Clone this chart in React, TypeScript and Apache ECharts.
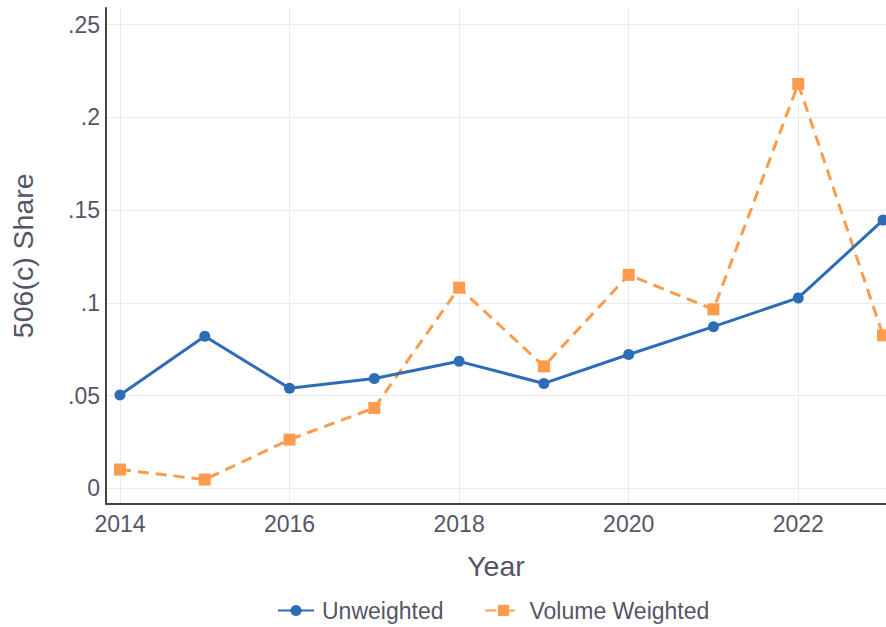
import React, { useEffect, useRef } from "react";
import * as echarts from "echarts";

const years = [2014, 2015, 2016, 2017, 2018, 2019, 2020, 2021, 2022, 2023];
const unweighted = [0.0504, 0.082, 0.054, 0.0593, 0.0685, 0.0566, 0.0722, 0.0872, 0.1027, 0.1446];
const volumeWeighted = [0.0102, 0.0048, 0.0263, 0.0434, 0.1082, 0.0658, 0.1151, 0.0965, 0.218, 0.0825];
const xTicks = [2014, 2016, 2018, 2020, 2022];
const yTicks = [0, 0.05, 0.1, 0.15, 0.2, 0.25];

const FONT = "Liberation Sans, Arial, sans-serif";
const TXT = "#555566";

export default function App() {
  const ref = useRef<HTMLDivElement>(null);
  useEffect(() => {
    if (!ref.current) return;
    const chart = echarts.init(ref.current, null, { renderer: "svg" });
    chart.setOption({
      animation: false,
      textStyle: { fontFamily: FONT },
      grid: { left: 104, right: 0, top: 8, bottom: 123.5, containLabel: false },
      legend: {
        left: 272,
        top: 594,
        itemWidth: 36,
        itemHeight: 14,
        itemGap: 41,
        textStyle: { fontFamily: FONT, fontSize: 23, color: TXT, padding: [0, 0, 0, 3] },
        data: ["Unweighted", "Volume Weighted"],
      },
      xAxis: {
        type: "value",
        min: 2013.835,
        max: 2023.035,
        name: "Year",
        nameLocation: "middle",
        nameGap: 48,
        nameTextStyle: { fontFamily: FONT, fontSize: 28.5, color: TXT },
        axisLine: { show: true, onZero: false, lineStyle: { color: "#444", width: 2 } },
        axisTick: { show: false, customValues: xTicks },
        axisLabel: {
          customValues: xTicks,
          fontSize: 23,
          color: TXT,
          margin: 9,
          formatter: (v: number) => String(v),
        },
        splitLine: { show: true, lineStyle: { color: "#ebebeb", width: 1 } },
      },
      yAxis: {
        type: "value",
        min: -0.0081,
        max: 0.2589,
        name: "506(c) Share",
        nameLocation: "middle",
        nameGap: 69,
        nameTextStyle: { fontFamily: FONT, fontSize: 28.5, color: TXT },
        axisLine: { show: true, onZero: false, lineStyle: { color: "#444", width: 2 } },
        axisTick: { show: false, customValues: yTicks },
        axisLabel: {
          customValues: yTicks,
          fontSize: 23,
          color: TXT,
          margin: 6,
          formatter: (v: number) => (v === 0 ? "0" : String(v).replace(/^0/, "")),
        },
        splitLine: { show: true, lineStyle: { color: "#ebebeb", width: 1 } },
      },
      series: [
        {
          name: "Unweighted",
          type: "line",
          data: years.map((y, i) => [y, unweighted[i]]),
          symbol: "circle",
          symbolSize: 11,
          color: "#2d6db8",
          lineStyle: { width: 3, color: "#2d6db8" },
          itemStyle: { color: "#2d6db8" },
          clip: false,
          z: 3,
        },
        {
          name: "Volume Weighted",
          type: "line",
          data: years.map((y, i) => [y, volumeWeighted[i]]),
          symbol: "rect",
          symbolSize: 12,
          color: "#ff9b4d",
          lineStyle: { width: 3, color: "#ff9b4d", type: [11, 7] },
          itemStyle: { color: "#ff9b4d" },
          clip: false,
          z: 2,
        },
      ],
    });
    return () => chart.dispose();
  }, []);
  return (
    <div
      ref={ref}
      style={{ position: "fixed", left: 0, top: 0, width: 886, height: 627, background: "#fff" }}
    />
  );
}
